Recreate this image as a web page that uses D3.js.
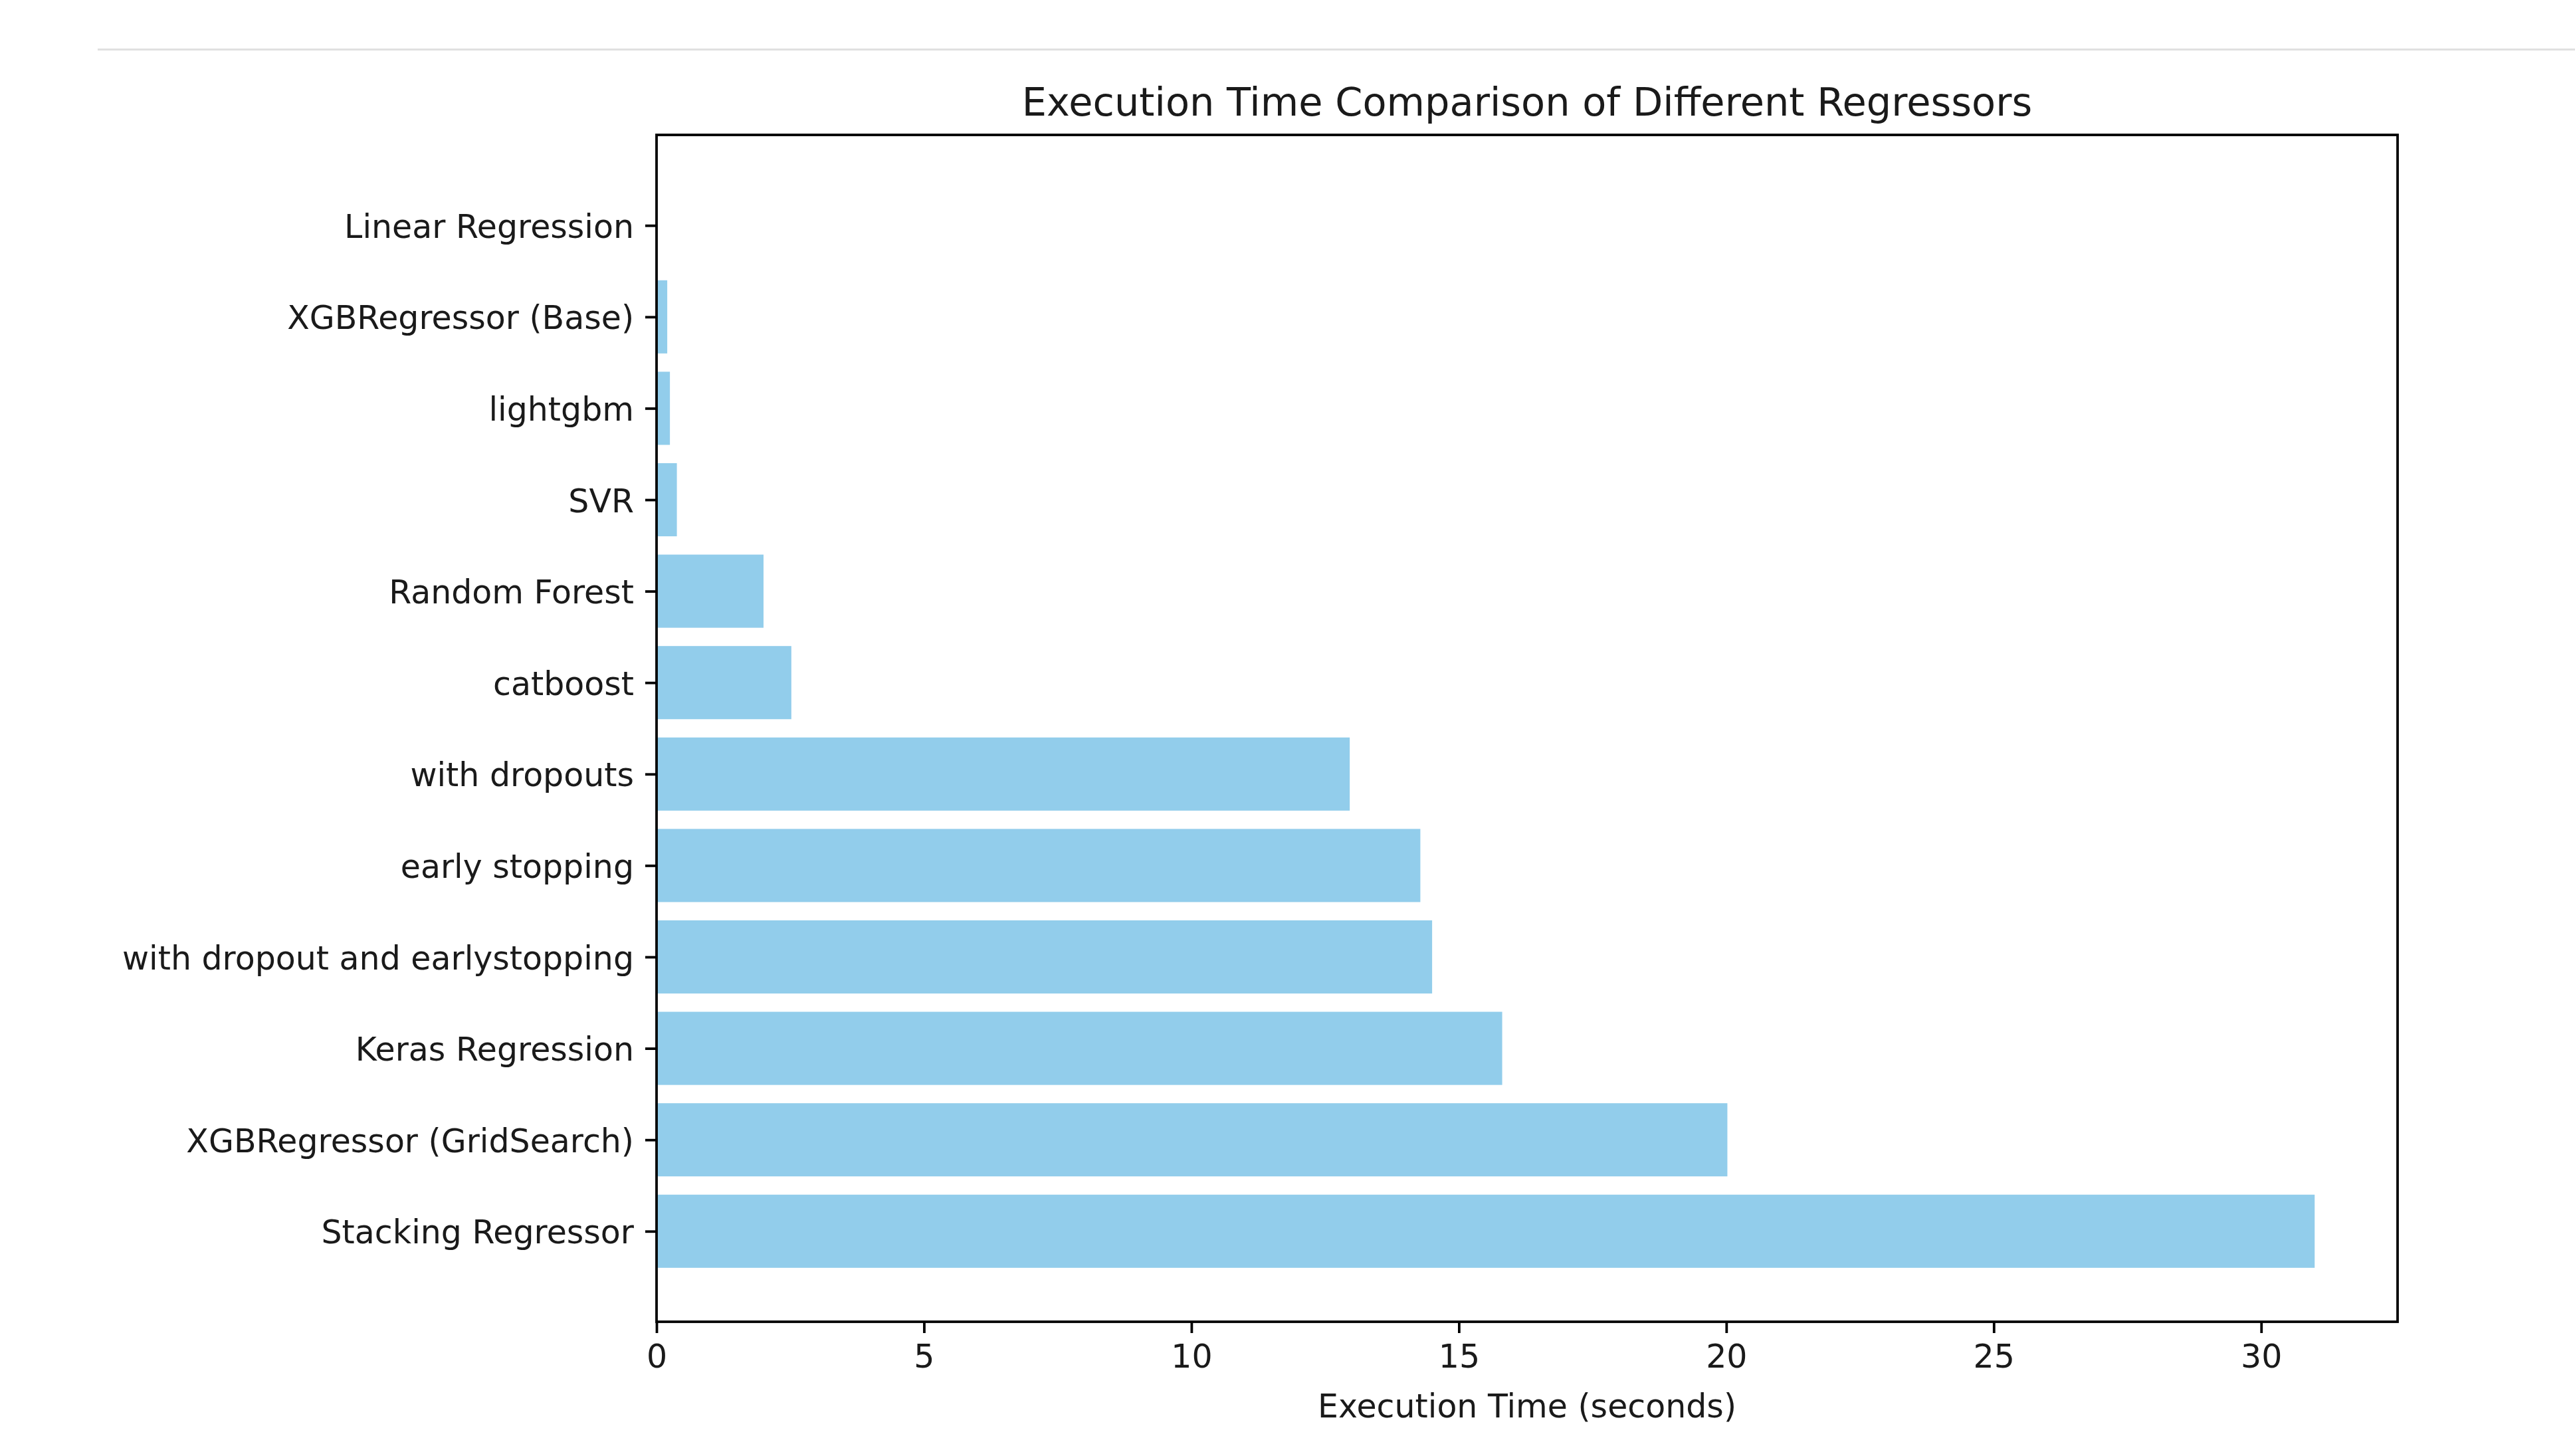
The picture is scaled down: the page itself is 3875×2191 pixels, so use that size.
<!doctype html>
<html lang="en">
<head>
<meta charset="utf-8">
<title>Execution Time Comparison</title>
<script src="https://d3js.org/d3.v7.min.js"></script>
<style>
  html, body { margin: 0; padding: 0; background: #fff; }
  svg { display: block; font-family: "DejaVu Sans", sans-serif; }
</style>
</head>
<body>
<div id="output"></div>
<script>
    // bottom to top, as drawn
    var models = ["Stacking Regressor", "XGBRegressor (GridSearch)", "Keras Regression",
        "with dropout and earlystopping", "early stopping", "with dropouts", "catboost",
        "Random Forest", "SVR", "lightgbm", "XGBRegressor (Base)", "Linear Regression"];
    var times = [31.0, 20.02, 15.81, 14.5, 14.28, 12.96, 2.52, 2.0, 0.38, 0.25, 0.2, 0.01];
    var xTicks = [0, 5, 10, 15, 20, 25, 30];

    var W = 3875, H = 2191;
    // plot area (avoid the name "top", it is window.top)
    var axL = 988, axR = 3608, axT = 203, axB = 1989;
    var fs = 49, tickLen = 17, pad = 17;

    var svg = d3.select("#output").append("svg")
        .attr("width", W)
        .attr("height", H);

    // notebook separator line
    svg.append("rect")
        .attr("x", 147).attr("y", 73)
        .attr("width", W - 147).attr("height", 3)
        .attr("fill", "#e0e0e0");

    var xmax = d3.max(times) * 1.05;
    var x = d3.scaleLinear().domain([0, xmax]).range([axL, axR]);

    var n = models.length;
    var ylo = -0.4 - 0.05 * (n - 1 + 0.8), yhi = n - 1 + 0.4 + 0.05 * (n - 1 + 0.8);
    var y = d3.scaleLinear().domain([ylo, yhi]).range([axB, axT]);

    svg.selectAll(".bar")
        .data(times)
        .enter()
        .append("rect")
        .attr("class", "bar")
        .attr("x", x(0))
        .attr("y", function (d, i) { return y(i + 0.4); })
        .attr("width", function (d) { return x(d) - x(0); })
        .attr("height", function (d, i) { return y(i - 0.4) - y(i + 0.4); })
        .attr("fill", "#92cdeb");

    var xAxis = d3.axisBottom(x)
        .tickValues(xTicks)
        .tickSize(tickLen)
        .tickPadding(pad);
    var gx = svg.append("g")
        .attr("transform", "translate(0," + axB + ")")
        .call(xAxis);

    var yAxis = d3.axisLeft(y)
        .tickValues(d3.range(n))
        .tickFormat(function (i) { return models[i]; })
        .tickSize(tickLen)
        .tickPadding(pad);
    var gy = svg.append("g")
        .attr("transform", "translate(" + axL + ",0)")
        .call(yAxis);
    gy.selectAll(".tick text").attr("dy", "0.37em");

    [gx, gy].forEach(function (g) {
        g.select(".domain").remove();
        g.selectAll(".tick line").attr("stroke", "#000").attr("stroke-width", 3.8);
        g.selectAll(".tick text")
            .attr("font-size", fs)
            .attr("fill", "#1a1a1a")
            .attr("font-family", "DejaVu Sans");
    });

    // frame
    svg.append("rect")
        .attr("x", axL).attr("y", axT)
        .attr("width", axR - axL).attr("height", axB - axT)
        .attr("fill", "none")
        .attr("stroke", "#000")
        .attr("stroke-width", 3.8);

    svg.append("text")
        .attr("x", (axL + axR) / 2)
        .attr("y", 174)
        .attr("text-anchor", "middle")
        .attr("font-size", 59)
        .attr("fill", "#1a1a1a")
        .text("Execution Time Comparison of Different Regressors");

    svg.append("text")
        .attr("x", (axL + axR) / 2)
        .attr("y", 2133)
        .attr("text-anchor", "middle")
        .attr("font-size", fs)
        .attr("fill", "#1a1a1a")
        .text("Execution Time (seconds)");
</script>
</body>
</html>
